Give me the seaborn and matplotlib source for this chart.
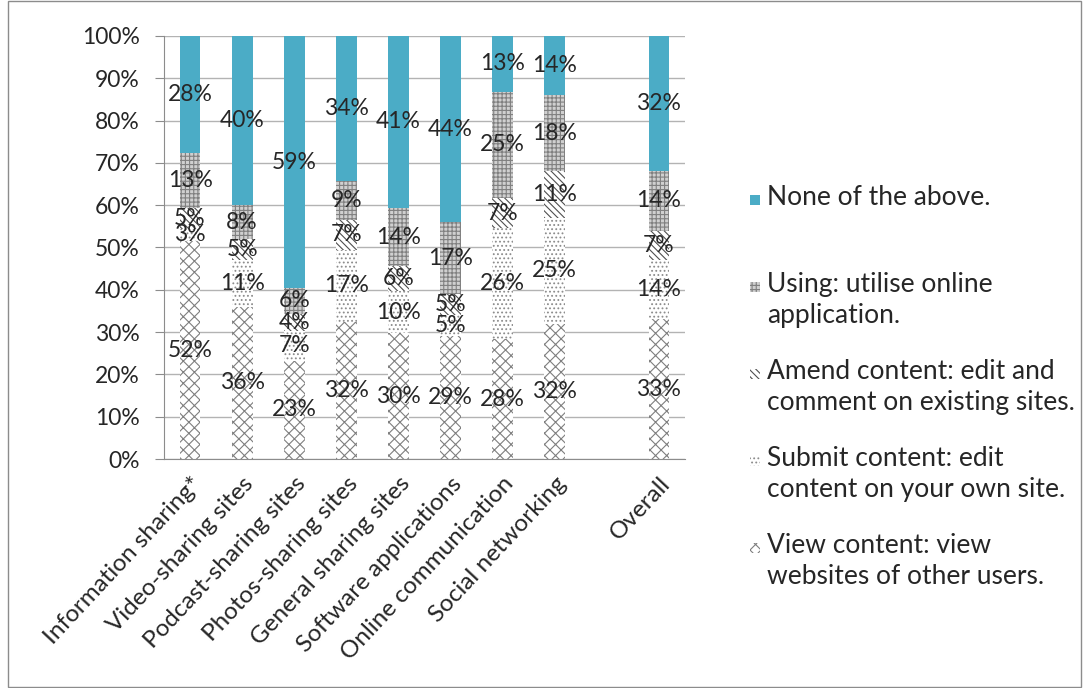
import numpy as np
import pandas as pd
import matplotlib
matplotlib.use("Agg")
import matplotlib.pyplot as plt
import seaborn as sns
from matplotlib.patches import Rectangle

### data
categories = ["Information sharing*", "Video-sharing sites", "Podcast-sharing sites",
              "Photos-sharing sites", "General sharing sites", "Software applications",
              "Online communication", "Social networking", " ", "Overall"]
view_content = [52, 36, 23, 32, 30, 29, 28, 32, 0, 33]
submit_content = [3, 11, 7, 17, 10, 5, 26, 25, 0, 14]
amend_content = [5, 5, 4, 7, 6, 5, 7, 11, 0, 7]
using_online = [13, 8, 6, 9, 14, 17, 25, 18, 0, 14]
none_above = [28, 40, 59, 34, 41, 44, 13, 14, 0, 32]

series_names = ["View content: view\nwebsites of other users.",
                "Submit content: edit\ncontent on your own site.",
                "Amend content: edit and\ncomment on existing sites.",
                "Using: utilise online\napplication.",
                "None of the above."]

sns.set_style("white")
plt.rcParams["font.family"] = ["Lato", "DejaVu Sans"]
plt.rcParams["hatch.linewidth"] = 0.8

df = pd.DataFrame({"cat": categories,
                   series_names[0]: view_content,
                   series_names[1]: submit_content,
                   series_names[2]: amend_content,
                   series_names[3]: using_online,
                   series_names[4]: none_above})

# 100% stacked: scale each column to its total
raw = df[series_names].to_numpy(dtype=float)
totals = raw.sum(axis=1)
totals[totals == 0] = 1
pct = raw / totals[:, None] * 100

styles = [
    dict(color="white", edgecolor="#7f7f7f", hatch="xxx"),
    dict(color="white", edgecolor="#8c8c8c", hatch="...."),
    dict(color="white", edgecolor="#505050", hatch="\\\\\\\\\\"),
    dict(color="#d0d0d0", edgecolor="#808080", hatch="++++"),
    dict(color="#4bacc6", edgecolor="#4bacc6", hatch=None),
]

W, H = 1084, 688
fig = plt.figure(figsize=(W / 100, H / 100), dpi=100)
ax = fig.add_axes([164 / W, 1 - 459 / H, (685 - 164) / W, (459 - 36) / H])

txt = "#262626"
fs = 16.5
bottom = np.zeros(len(categories))
for i, name in enumerate(series_names):
    st = styles[i]
    sns.barplot(x=df["cat"], y=pct[:, i], order=categories, bottom=bottom,
                color=st["color"], saturation=1, width=0.4, ax=ax,
                edgecolor=st["edgecolor"], hatch=st["hatch"], linewidth=0)
    for j in range(len(categories)):
        if raw[j, i] > 0:
            ax.text(j, bottom[j] + pct[j, i] / 2, f"{int(raw[j, i])}%",
                    ha="center", va="center", fontsize=fs, color=txt)
    bottom = bottom + pct[:, i]

ax.set_ylim(0, 100)
ax.set_xlim(-0.5, len(categories) - 0.5)
ax.set_yticks(np.arange(0, 101, 10))
ax.set_yticklabels([f"{v}%" for v in range(0, 101, 10)], fontsize=fs, color=txt)
ax.yaxis.grid(True, color="#b3b3b3", linewidth=1)
ax.set_axisbelow(True)
ax.set_xlabel("")
ax.set_ylabel("")
ax.set_xticks(range(len(categories)))
ax.set_xticklabels(categories, rotation=47, ha="right", rotation_mode="anchor",
                   fontsize=17.5, color=txt)
ax.set_xticks(np.arange(-0.5, len(categories)), minor=True)
ax.tick_params(axis="x", which="major", length=0, pad=10)
ax.tick_params(axis="x", which="minor", length=6.5, color="#8c8c8c", direction="out")
ax.tick_params(axis="y", length=6.5, color="#8c8c8c", direction="out", left=True, pad=11)
for s in ["top", "right"]:
    ax.spines[s].set_visible(False)
for s in ["left", "bottom"]:
    ax.spines[s].set_color("#8c8c8c")

# legend, drawn like the spreadsheet one: newest series on top, 87 px per entry
for k, i in enumerate(range(4, -1, -1)):
    yc = 200 + 87 * k
    st = styles[i]
    fig.patches.append(Rectangle((750 / W, 1 - (yc + 5) / H), 10 / W, 10 / H,
                                 transform=fig.transFigure, facecolor=st["color"],
                                 edgecolor=st["edgecolor"], hatch=st["hatch"], linewidth=0))
    fig.text(767 / W, 1 - (yc - 15) / H, series_names[i], ha="left", va="top",
             fontsize=19, color=txt, linespacing=1.3)

fig.patches.append(Rectangle((0.007, 0.002), 0.99, 0.996, transform=fig.transFigure,
                             fill=False, edgecolor="#8c8c8c", linewidth=1))

fig.savefig("out.png", dpi=100)
